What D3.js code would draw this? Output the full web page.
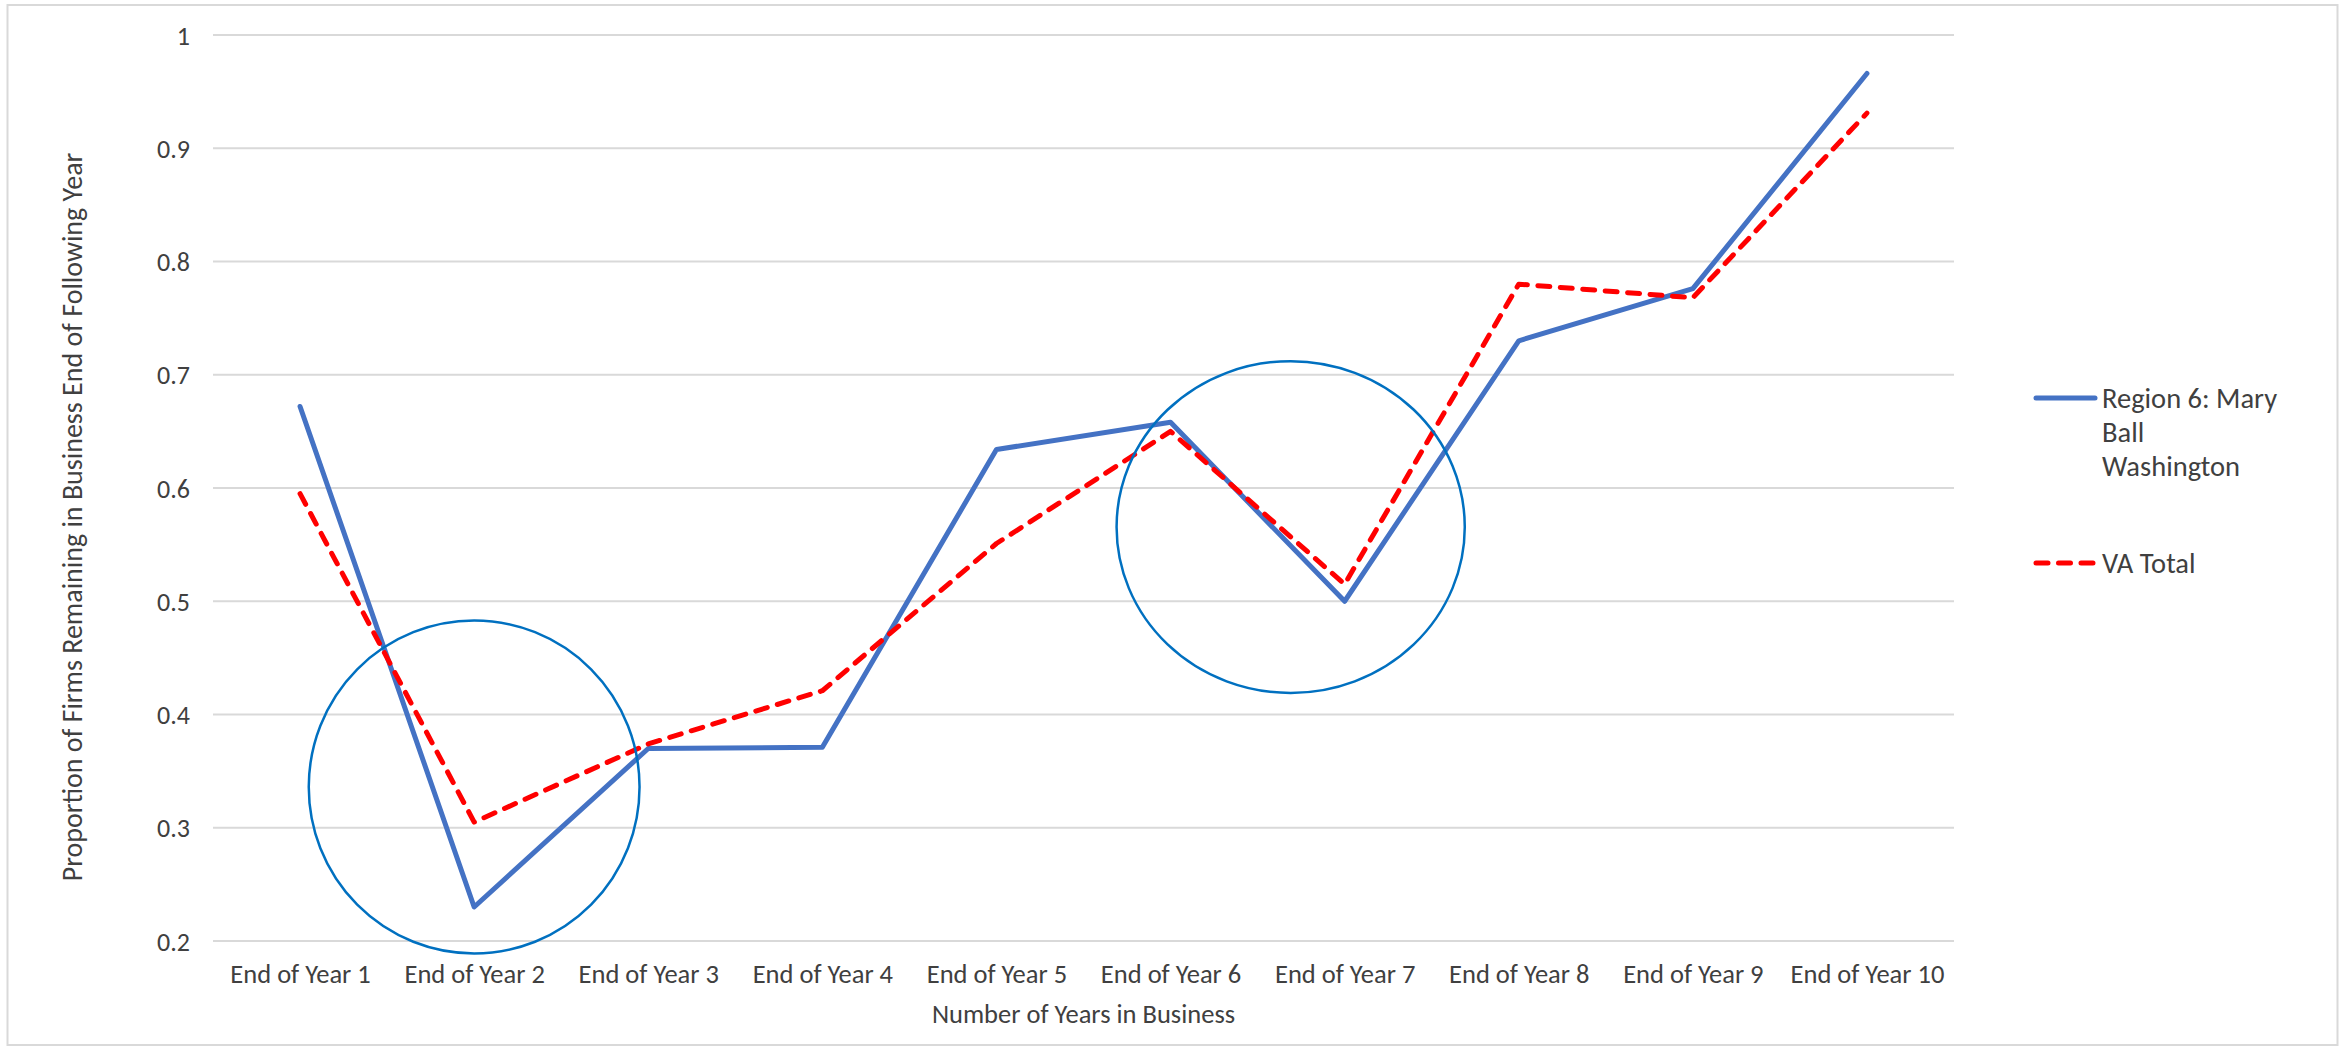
<!DOCTYPE html>
<html>
<head>
<meta charset="utf-8">
<script src="https://cdn.jsdelivr.net/npm/d3@7"></script>
<style>
  html, body { margin: 0; padding: 0; background: #ffffff; }
  svg { display: block; }
  text { font-family: Carlito, Lato, "Liberation Sans", sans-serif; fill: #404040; }
</style>
</head>
<body>
<svg id="chart" width="2348" height="1046"></svg>
<script>
// Survival proportions by years in business
const categories = ["End of Year 1", "End of Year 2", "End of Year 3", "End of Year 4", "End of Year 5",
                    "End of Year 6", "End of Year 7", "End of Year 8", "End of Year 9", "End of Year 10"];
const region6Values = [0.672, 0.230, 0.370, 0.371, 0.634, 0.658, 0.500, 0.730, 0.776, 0.966];
const vaTotalValues = [0.595, 0.305, 0.374, 0.421, 0.551, 0.650, 0.515, 0.780, 0.768, 0.931];
const yTicks = [0.2, 0.3, 0.4, 0.5, 0.6, 0.7, 0.8, 0.9, 1];
const seriesNames = ["Region 6: Mary Ball Washington", "VA Total"];

const svg = d3.select("#chart");
const plot = { left: 213, right: 1954, top: 35, bottom: 941 };

// Outer chart frame
svg.append("rect")
  .attr("x", 7.5).attr("y", 5).attr("width", 2330).attr("height", 1040)
  .attr("fill", "#ffffff").attr("stroke", "#d9d9d9").attr("stroke-width", 2);

const x = d3.scalePoint().domain(categories).range([plot.left, plot.right]).padding(0.5);
const y = d3.scaleLinear().domain([0.2, 1]).range([plot.bottom, plot.top]);

// Horizontal gridlines
svg.append("g").selectAll("line").data(yTicks).join("line")
  .attr("x1", plot.left).attr("x2", plot.right)
  .attr("y1", d => y(d)).attr("y2", d => y(d))
  .attr("stroke", "#d9d9d9").attr("stroke-width", 2);

// Y axis labels
const yAxis = d3.axisLeft(y).tickValues(yTicks).tickSize(0).tickPadding(0)
  .tickFormat(d => d === 1 ? "1" : d3.format(".1f")(d));
const yg = svg.append("g").attr("transform", `translate(190,0)`).call(yAxis);
yg.select(".domain").remove();
yg.selectAll("text").attr("font-size", 26).attr("font-family", null).attr("fill", "#404040").attr("dy", "0.35em");

// X axis labels
const xAxis = d3.axisBottom(x).tickSize(0).tickPadding(0);
const xg = svg.append("g").attr("transform", `translate(0,964)`).call(xAxis);
xg.select(".domain").remove();
xg.selectAll("text").attr("font-size", 26.5).attr("font-family", null).attr("fill", "#404040").attr("dy", "0.71em");

// Axis titles
svg.append("text")
  .attr("x", (plot.left + plot.right) / 2).attr("y", 1023)
  .attr("text-anchor", "middle").attr("font-size", 26.5)
  .text("Number of Years in Business");
svg.append("text")
  .attr("transform", "translate(82,517) rotate(-90)")
  .attr("text-anchor", "middle").attr("font-size", 28)
  .text("Proportion of Firms Remaining in Business End of Following Year");

// Series lines
const line = d3.line().x((d, i) => x(categories[i])).y(d => y(d));
svg.append("path").datum(region6Values)
  .attr("d", line).attr("fill", "none")
  .attr("stroke", "#4472C4").attr("stroke-width", 5)
  .attr("stroke-linejoin", "round").attr("stroke-linecap", "round");
svg.append("path").datum(vaTotalValues)
  .attr("d", line).attr("fill", "none")
  .attr("stroke", "#FF0000").attr("stroke-width", 5)
  .attr("stroke-dasharray", "12,10.5")
  .attr("stroke-linejoin", "round").attr("stroke-linecap", "round");

// Highlight ellipses around the two dips
const step = x.step();
const highlights = [
  { cat: "End of Year 2", shift: 0, halfWidth: 0.95, top: 0.483, bottom: 0.189 },
  { cat: "End of Year 7", shift: -0.31, halfWidth: 1.0, top: 0.712, bottom: 0.419 }
];
svg.append("g").selectAll("ellipse").data(highlights).join("ellipse")
  .attr("cx", d => x(d.cat) + d.shift * step)
  .attr("cy", d => (y(d.top) + y(d.bottom)) / 2)
  .attr("rx", d => d.halfWidth * step)
  .attr("ry", d => (y(d.bottom) - y(d.top)) / 2)
  .attr("fill", "none").attr("stroke", "#0070C0").attr("stroke-width", 2.5);

// Legend
const legend = svg.append("g");
legend.append("line")
  .attr("x1", 2036).attr("x2", 2095).attr("y1", 398).attr("y2", 398)
  .attr("stroke", "#4472C4").attr("stroke-width", 5).attr("stroke-linecap", "round");
const lt = legend.append("text").attr("x", 2102).attr("font-size", 28.5).attr("fill", "#262626");
["Region 6: Mary", "Ball", "Washington"].forEach((s, i) => {
  lt.append("tspan").attr("x", 2102).attr("y", 408 + i * 34).text(s);
});
legend.append("line")
  .attr("x1", 2036).attr("x2", 2095).attr("y1", 563).attr("y2", 563)
  .attr("stroke", "#FF0000").attr("stroke-width", 5)
  .attr("stroke-dasharray", "12,10.5").attr("stroke-linecap", "round");
legend.append("text").attr("x", 2102).attr("y", 573)
  .attr("font-size", 28.5).attr("fill", "#262626").text(seriesNames[1]);
</script>
</body>
</html>
